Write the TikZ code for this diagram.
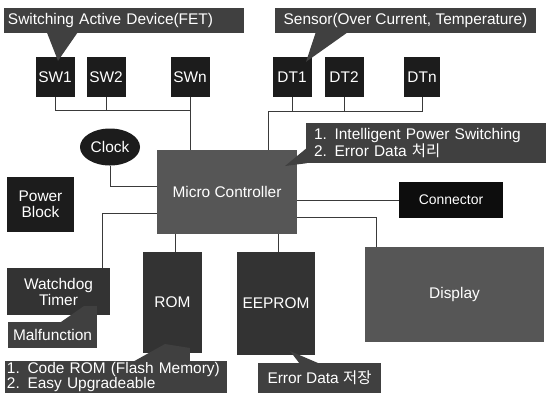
\documentclass[tikz,border=0pt]{standalone}
\usepackage{fontspec}
\setmainfont{Liberation Sans}
\newfontfamily\krfont{Noto Sans CJK KR}
\usepackage{xcolor}
\definecolor{unitBlack}{HTML}{1C1C1C}
\definecolor{memGray}{HTML}{333333}
\definecolor{noteGray}{HTML}{404040}
\definecolor{coreGray}{HTML}{565656}
\definecolor{wireGray}{HTML}{3A3A3A}
\usetikzlibrary{
    shapes.geometric,
    calc,
    positioning
}
\tikzset{
    % Base style for all blocks
    block base/.style={
        font=\fontsize{15.5}{16}\selectfont,
        align=center,
        text=white,
        inner sep=2bp,
    },
    % Small device blocks (SW, DT)
    unit/.style={
        block base,
        rectangle,
        fill=unitBlack,
        minimum width=39bp,
        minimum height=40bp,
    },
    % Memory / timer blocks
    memory/.style={
        block base,
        rectangle,
        fill=memGray,
    },
    % Large grey blocks
    core/.style={
        block base,
        rectangle,
        fill=coreGray,
    },
    % Clock oscillator
    osc/.style={
        block base,
        ellipse,
        fill=unitBlack,
        inner sep=0pt,
        minimum width=60bp,
        minimum height=37bp,
    },
    % Callout notes
    note/.style={
        block base,
        rectangle,
        fill=noteGray,
    },
    % Callout pointer
    tail/.style={
        fill=noteGray,
    },
    % Plain connection line
    wire/.style={
        draw=wireGray,
        line width=0.9bp,
    },
}
\begin{document}
\begin{tikzpicture}[x=1bp, y=-1bp]
    \useasboundingbox (0,0) rectangle (546,401);

    % switching devices
    \node (sw1) [unit] at (55,77) {SW1};
    \node (sw2) [unit] at (106,77) {SW2};
    \node (swn) [unit] at (190,77) {SWn};
    \node (fetnote) [note, minimum width=240bp, minimum height=25bp, text width=232bp, align=left, inner xsep=4bp] at (124,20.5) {Switching Active Device(FET)};

    % sensors
    \node (dt1) [unit] at (292,77) {DT1};
    \node (dt2) [unit] at (344,77) {DT2};
    \node (dtn) [unit, minimum width=36bp] at (422,77) {DTn};
    \node (sensornote) [note, minimum width=261bp, minimum height=25bp] at (405.5,20.5) {Sensor(Over Current, Temperature)};

    % controller and neighbours
    \node (mcu) [core, minimum width=140bp, minimum height=84bp] at (227,192) {Micro Controller};
    \node (clock) [osc] at (110,147) {Clock};
    \node (power) [unit, minimum width=67bp, minimum height=55bp] at (40.5,204.5) {Power\\Block};
    \node (connector) [unit, fill=black!95, minimum width=104bp, minimum height=36bp, font=\fontsize{14}{16}\selectfont] at (451,200) {Connector};
    \node (intelnote) [note, align=left, text width=224bp, inner xsep=8bp, minimum height=40bp] at (426,143) {1. Intelligent Power Switching\\2. Error Data {\krfont 처리}};

    % lower row
    \node (watchdog) [memory, minimum width=103bp, minimum height=47bp] at (58.5,291.5) {Watchdog\\Timer};
    \node (malfnote) [note, minimum width=89bp, minimum height=26bp] at (52.5,335) {Malfunction};
    \node (rom) [memory, minimum width=59bp, minimum height=101bp] at (172.5,302.5) {ROM};
    \node (romnote) [note, align=left, text width=218bp, inner xsep=2bp, inner ysep=1bp, minimum height=31bp, font=\fontsize{15.5}{14}\selectfont] at (116,377) {1. Code ROM (Flash Memory)\\2. Easy Upgradeable};
    \node (eeprom) [memory, minimum width=78bp, minimum height=103bp] at (276,303.5) {EEPROM};
    \node (errnote) [note, minimum width=123bp, minimum height=30bp] at (319.5,378) {Error Data {\krfont 저장}};
    \node (display) [core, minimum width=179bp, minimum height=95bp] at (454.5,294.5) {Display};

    % bus lines
    \coordinate (swbus) at (190,110);
    \coordinate (dtbus) at (268,111);
    \draw [wire] (sw1.south) |- (swbus);
    \draw [wire] (sw2.south) -- (sw2.south |- swbus);
    \draw [wire] (swn.south) -- (swn.south |- mcu.north);
    \draw [wire] (dtn.south) |- (dtbus) -- (dtbus |- mcu.north);
    \draw [wire] (dt1.south) -- (dt1.south |- dtbus);
    \draw [wire] (dt2.south) -- (dt2.south |- dtbus);

    % controller links
    \draw [wire] (clock.south) |- ([yshift=6bp]mcu.west);
    \draw [wire] ([yshift=-21bp]mcu.west) -| ([xshift=43.5bp]watchdog.north);
    \draw [wire] ([xshift=2.5bp]rom.north) -- ([xshift=2.5bp]rom.north |- mcu.south);
    \draw [wire] ([xshift=2bp]eeprom.north) -- ([xshift=2bp]eeprom.north |- mcu.south);
    \draw [wire] (mcu.east |- connector) -- (connector.west);
    \draw [wire] ([yshift=-25bp]mcu.east) -| ([xshift=-78.5bp]display.north);

    % callout pointers
    \fill [tail] ($(fetnote.south west)+(43,-1)$) -- ++(31,0) -- ($(sw1.north)+(3,4)$) -- cycle;
    \fill [tail] ($(sensornote.south west)+(41,-1)$) -- ++(32,0) -- ($(dt1.north)+(14,5)$) -- cycle;
    \fill [tail] ($(intelnote.west)+(1,5)$) -- ($(intelnote.south west)+(1,0)$) -- (285,166) -- cycle;
    \fill [tail] ($(malfnote.north west)+(52,1)$) -- (84,306) -- (97,306) -- ($(malfnote.north west)+(89,1)$) -- cycle;
    \fill [tail] ($(romnote.north west)+(128,1)$) -- (165,344) -- (190,348) -- ($(romnote.north west)+(185,1)$) -- cycle;
    \fill [tail] (290,351) -- ($(errnote.north west)+(42,1)$) -- ($(errnote.north west)+(62,1)$) -- cycle;
\end{tikzpicture}
\end{document}
